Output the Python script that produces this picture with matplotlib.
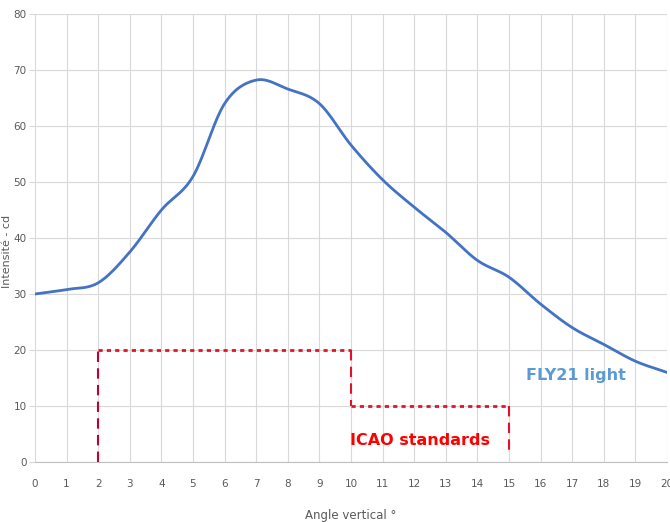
import numpy as np
import matplotlib
matplotlib.use("Agg")
import matplotlib.pyplot as plt

# intensity curve
angle = [0, 1, 2, 3, 4, 5, 6, 7, 8, 9, 10, 11, 12, 13, 14, 15, 16, 17, 18, 19, 20]
intensity = [30, 30.8, 32, 37.5, 45, 51, 64, 68.2, 66.6, 64, 56.6, 50.4, 45.5, 41, 36, 33, 28.2, 24, 21, 18, 16]

# ICAO minimum steps
icao_x = [2, 10, 15]
icao_y = [20, 10]
icao_end = 1.5

def smooth(x, y, n=30):
    # catmull-rom through the points, like the excel smoothed line
    x = np.asarray(x, float)
    y = np.asarray(y, float)
    px = np.concatenate([[2*x[0]-x[1]], x, [2*x[-1]-x[-2]]])
    py = np.concatenate([[2*y[0]-y[1]], y, [2*y[-1]-y[-2]]])
    t = np.linspace(0, 1, n, endpoint=False)
    xs, ys = [], []
    for i in range(1, len(px)-2):
        for p, out in ((px, xs), (py, ys)):
            p0, p1, p2, p3 = p[i-1], p[i], p[i+1], p[i+2]
            out.append(0.5*((2*p1) + (-p0+p2)*t + (2*p0-5*p1+4*p2-p3)*t**2 + (-p0+3*p1-3*p2+p3)*t**3))
    xs.append([x[-1]]); ys.append([y[-1]])
    return np.concatenate(xs), np.concatenate(ys)

fig = plt.figure(figsize=(6.7, 5.22), dpi=100)
ax = fig.add_axes([35/670, 60/522, 632/670, 448/522])

sx, sy = smooth(angle, intensity)
ax.plot(sx, sy, color="#4472c4", lw=2, zorder=3)

dark = "#c00030"
red = "#e8102a"
ax.plot([icao_x[0], icao_x[0]], [0, icao_y[0]], color=dark, lw=1.5, dashes=(5, 3))
ax.plot([icao_x[0], icao_x[1]], [icao_y[0], icao_y[0]], color=red, lw=2, dashes=(1.5, 1.5))
ax.plot([icao_x[1], icao_x[1]], [icao_y[0], icao_y[1]], color=red, lw=1.5, dashes=(5, 3))
ax.plot([icao_x[1], icao_x[2]], [icao_y[1], icao_y[1]], color=red, lw=2, dashes=(1.5, 1.5))
ax.plot([icao_x[2], icao_x[2]], [icao_y[1], icao_end], color=red, lw=1.5, dashes=(5, 3))

ax.text(15.55, 15.5, "FLY21 light", color="#5b9bd5", fontsize=11.5, fontweight="bold", va="center")
ax.text(9.97, 3.9, "ICAO standards", color="#ff0000", fontsize=11.5, fontweight="bold", va="center")

ax.set_xlim(0, 20)
ax.set_ylim(0, 80)
ax.set_xticks(range(0, 21))
ax.set_yticks(range(0, 81, 10))
ax.grid(True, color="#d9d9d9", lw=0.8)
ax.set_axisbelow(True)
for s in ["top", "right", "left"]:
    ax.spines[s].set_visible(False)
ax.spines["bottom"].set_color("#bfbfbf")
ax.tick_params(axis="x", length=0, pad=12, labelsize=7.5, labelcolor="#595959")
ax.tick_params(axis="y", length=4, width=0.8, color="#d9d9d9", pad=2, labelsize=7.5, labelcolor="#595959")
ax.set_xlabel("Angle vertical °", fontsize=8.5, color="#595959")
ax.xaxis.set_label_coords(0.5, -0.105)
ax.set_ylabel("Intensité - cd", fontsize=8, color="#595959", va="center")
ax.yaxis.set_label_coords(-0.045, 0.47)

fig.savefig("out.png", dpi=100)
